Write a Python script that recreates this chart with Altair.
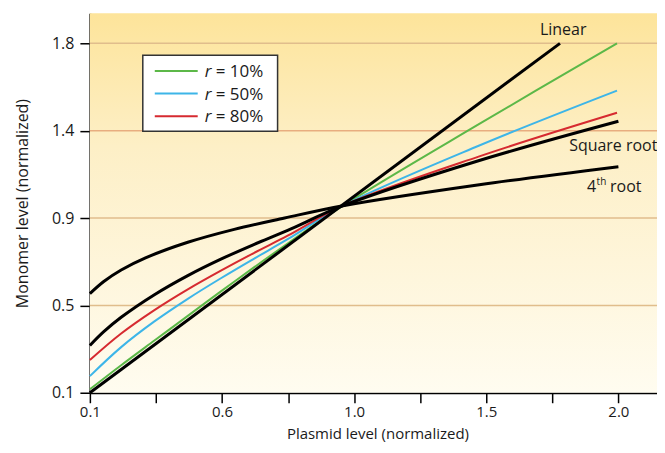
import altair as alt
import pandas as pd

# ---------------- data ----------------
x_tick_labels = ["0.1", "0.6", "1.0", "1.5", "2.0"]
y_tick_labels = ["0.1", "0.5", "0.9", "1.4", "1.8"]

linear_x = [0.1, 1.79]
linear_y = [0.1, 1.8]
sqrt_x = [0.1, 0.15, 0.2125, 0.332, 0.452, 0.571, 0.691, 0.811, 1.01, 1.5, 2.0]
sqrt_y = [0.33, 0.397, 0.467, 0.577, 0.67, 0.75, 0.822, 0.89, 1.01, 1.23, 1.421]
root4_x = [0.1, 0.15, 0.2125, 0.3, 0.452, 0.619, 0.8, 1.01, 1.5, 2.0]
root4_y = [0.582, 0.641, 0.697, 0.756, 0.832, 0.895, 0.95, 1.01, 1.112, 1.2]
r10_x = [0.1, 0.2125, 0.332, 0.452, 0.571, 0.691, 0.811, 1.01, 1.5, 1.995]
r10_y = [0.117, 0.234, 0.354, 0.474, 0.593, 0.711, 0.826, 1.01, 1.408, 1.8]
r50_x = [0.1, 0.2125, 0.332, 0.452, 0.571, 0.691, 0.811, 1.01, 1.5, 1.995]
r50_y = [0.181, 0.322, 0.447, 0.557, 0.657, 0.753, 0.847, 1.01, 1.303, 1.57]
r80_x = [0.1, 0.2125, 0.332, 0.452, 0.571, 0.691, 0.811, 1.01, 1.5, 1.995]
r80_y = [0.259, 0.388, 0.502, 0.603, 0.694, 0.781, 0.864, 1.01, 1.25, 1.462]

legend_names = ["r = 10%", "r = 50%", "r = 80%"]
legend_pct = ["10%", "50%", "80%"]
legend_colors = ["#5cb848", "#3db5e8", "#d62a30"]
black_names = ["Linear", "Square root", "4th root"]
grid_colors = ["#e0bd8c", "#e0bd8c", "#e0bd8c", "#e8ad80", "#e0bd8c"]

# ---------------- build tables ----------------
def long(name, xs, ys):
    return pd.DataFrame({"series": name, "x": xs, "y": ys})

colored = pd.concat([long(legend_names[0], r10_x, r10_y),
                     long(legend_names[1], r50_x, r50_y),
                     long(legend_names[2], r80_x, r80_y)], ignore_index=True)
black = pd.concat([long(black_names[0], linear_x, linear_y),
                   long(black_names[1], sqrt_x, sqrt_y),
                   long(black_names[2], root4_x, root4_y)], ignore_index=True)

W, H = 568, 380
X_MIN, X_MAX = 0.1, 2.0
Y_MIN, Y_MAX = 0.1, 1.8
X_DOM = [0.1, 0.1 + W / 278.6]
Y_DOM = [0.1, 1.946]
FONT = "Open Sans"
TXT = "#1a1a1a"

x_major = [X_MIN + i * (X_MAX - X_MIN) / 4 for i in range(5)]
x_vals = [X_MIN + i * (X_MAX - X_MIN) / 8 for i in range(9)]
y_vals = [Y_MIN + i * (Y_MAX - Y_MIN) / 4 for i in range(5)]
grid_df = pd.DataFrame({"y": y_vals[1:], "c": grid_colors[1:]})


def label_expr(vals, labels):
    expr = "''"
    for v, lab in reversed(list(zip(vals, labels))):
        expr = f"abs(datum.value - {v:.4f}) < 0.01 ? '{lab}' : ({expr})"
    return expr


x_axis = alt.Axis(values=x_vals, labelExpr=label_expr(x_major, x_tick_labels),
                  labelOverlap=False, labelFlush=False, grid=False,
                  domainColor="black", domainWidth=2, tickColor="black",
                  tickWidth=1.5, tickSize=10, labelFontSize=15, labelFont=FONT,
                  labelColor=TXT, labelPadding=2, titleFontSize=15,
                  titleFont=FONT, titleFontWeight="normal", titleColor=TXT,
                  titleX=288, titleY=45.5, titleBaseline="alphabetic",
                  titleAlign="center")
y_axis = alt.Axis(values=y_vals, labelExpr=label_expr(y_vals, y_tick_labels),
                  labelOverlap=False, labelFlush=False, grid=False,
                  domainColor="black", domainWidth=2, tickColor="black",
                  tickWidth=1.5, tickSize=10, labelFontSize=16, labelFont=FONT,
                  labelColor=TXT, labelPadding=6, titleFontSize=16,
                  titleFont=FONT, titleFontWeight="normal", titleColor=TXT,
                  titleX=-62, titleY=H / 2, titleBaseline="alphabetic",
                  titleAlign="center", titleAngle=270)

x_scale = alt.Scale(domain=X_DOM, nice=False, zero=False)
y_scale = alt.Scale(domain=Y_DOM, nice=False, zero=False)
x_enc = alt.X("x:Q", scale=x_scale, axis=x_axis, title="Plasmid level (normalized)")
y_enc = alt.Y("y:Q", scale=y_scale, axis=y_axis, title="Monomer level (normalized)")

gradient = alt.Gradient(
    gradient="linear", x1=0, x2=0, y1=0, y2=1,
    stops=[alt.GradientStop(color="#fde49a", offset=0),
           alt.GradientStop(color="#fdefc6", offset=0.35),
           alt.GradientStop(color="#fffcf0", offset=1)],
)
bg = alt.Chart(alt.Data(values=[{}])).mark_rect(fill=gradient).encode(
    x=alt.value(0), x2=alt.value(W), y=alt.value(0), y2=alt.value(H))

grid = alt.Chart(grid_df).mark_rule(strokeWidth=1.5).encode(
    y=y_enc,
    x=alt.value(0), x2=alt.value(W),
    color=alt.Color("c:N", scale=None),
)

col_layer = alt.Chart(colored).mark_line(strokeWidth=2, interpolate="catmull-rom").encode(
    x=x_enc, y=y_enc,
    color=alt.Color("series:N", scale=alt.Scale(domain=legend_names, range=legend_colors),
                    legend=None),
    detail="series:N",
)
blk_layer = alt.Chart(black).mark_line(strokeWidth=3, color="black",
                                       interpolate="catmull-rom").encode(
    x=x_enc, y=y_enc, detail="series:N",
)


def text_at(txt, x, y, size=16, align="left", style="normal"):
    return alt.Chart(alt.Data(values=[{"t": txt}])).mark_text(
        align=align, baseline="alphabetic", font=FONT, fontSize=size,
        color=TXT, fontStyle=style,
    ).encode(x=alt.value(x), y=alt.value(y), text="t:N")


annotations = [
    text_at("Linear", 474, 22, align="center"),
    text_at("Square root", 480, 138),
    text_at("4", 498, 179),
    text_at("th", 507.5, 172, size=10),
    text_at("root", 521, 179),
]

legend_box = alt.Chart(alt.Data(values=[{}])).mark_rect(
    fill="white", stroke="#333333", strokeWidth=1.5
).encode(x=alt.value(53), x2=alt.value(188), y=alt.value(42), y2=alt.value(118))

legend_items = []
for i, (pct, colr) in enumerate(zip(legend_pct, legend_colors)):
    yy = 57.7 + i * 22.65
    legend_items.append(
        alt.Chart(alt.Data(values=[{}])).mark_rule(color=colr, strokeWidth=2).encode(
            x=alt.value(65), x2=alt.value(108), y=alt.value(yy)))
    legend_items.append(text_at("r", 115, yy + 6, size=17, style="italic"))
    legend_items.append(text_at("= " + pct, 126, yy + 6, size=17))

chart = alt.layer(bg, grid, col_layer, blk_layer, *annotations, legend_box,
                  *legend_items).properties(
    width=W, height=H,
    autosize=alt.AutoSizeParams(type="none"),
    padding={"left": 82, "top": 5, "right": 0, "bottom": 50},
    background="white",
).configure_view(stroke=None)

chart.save("out.html", embed_options={"renderer": "svg", "actions": False})
